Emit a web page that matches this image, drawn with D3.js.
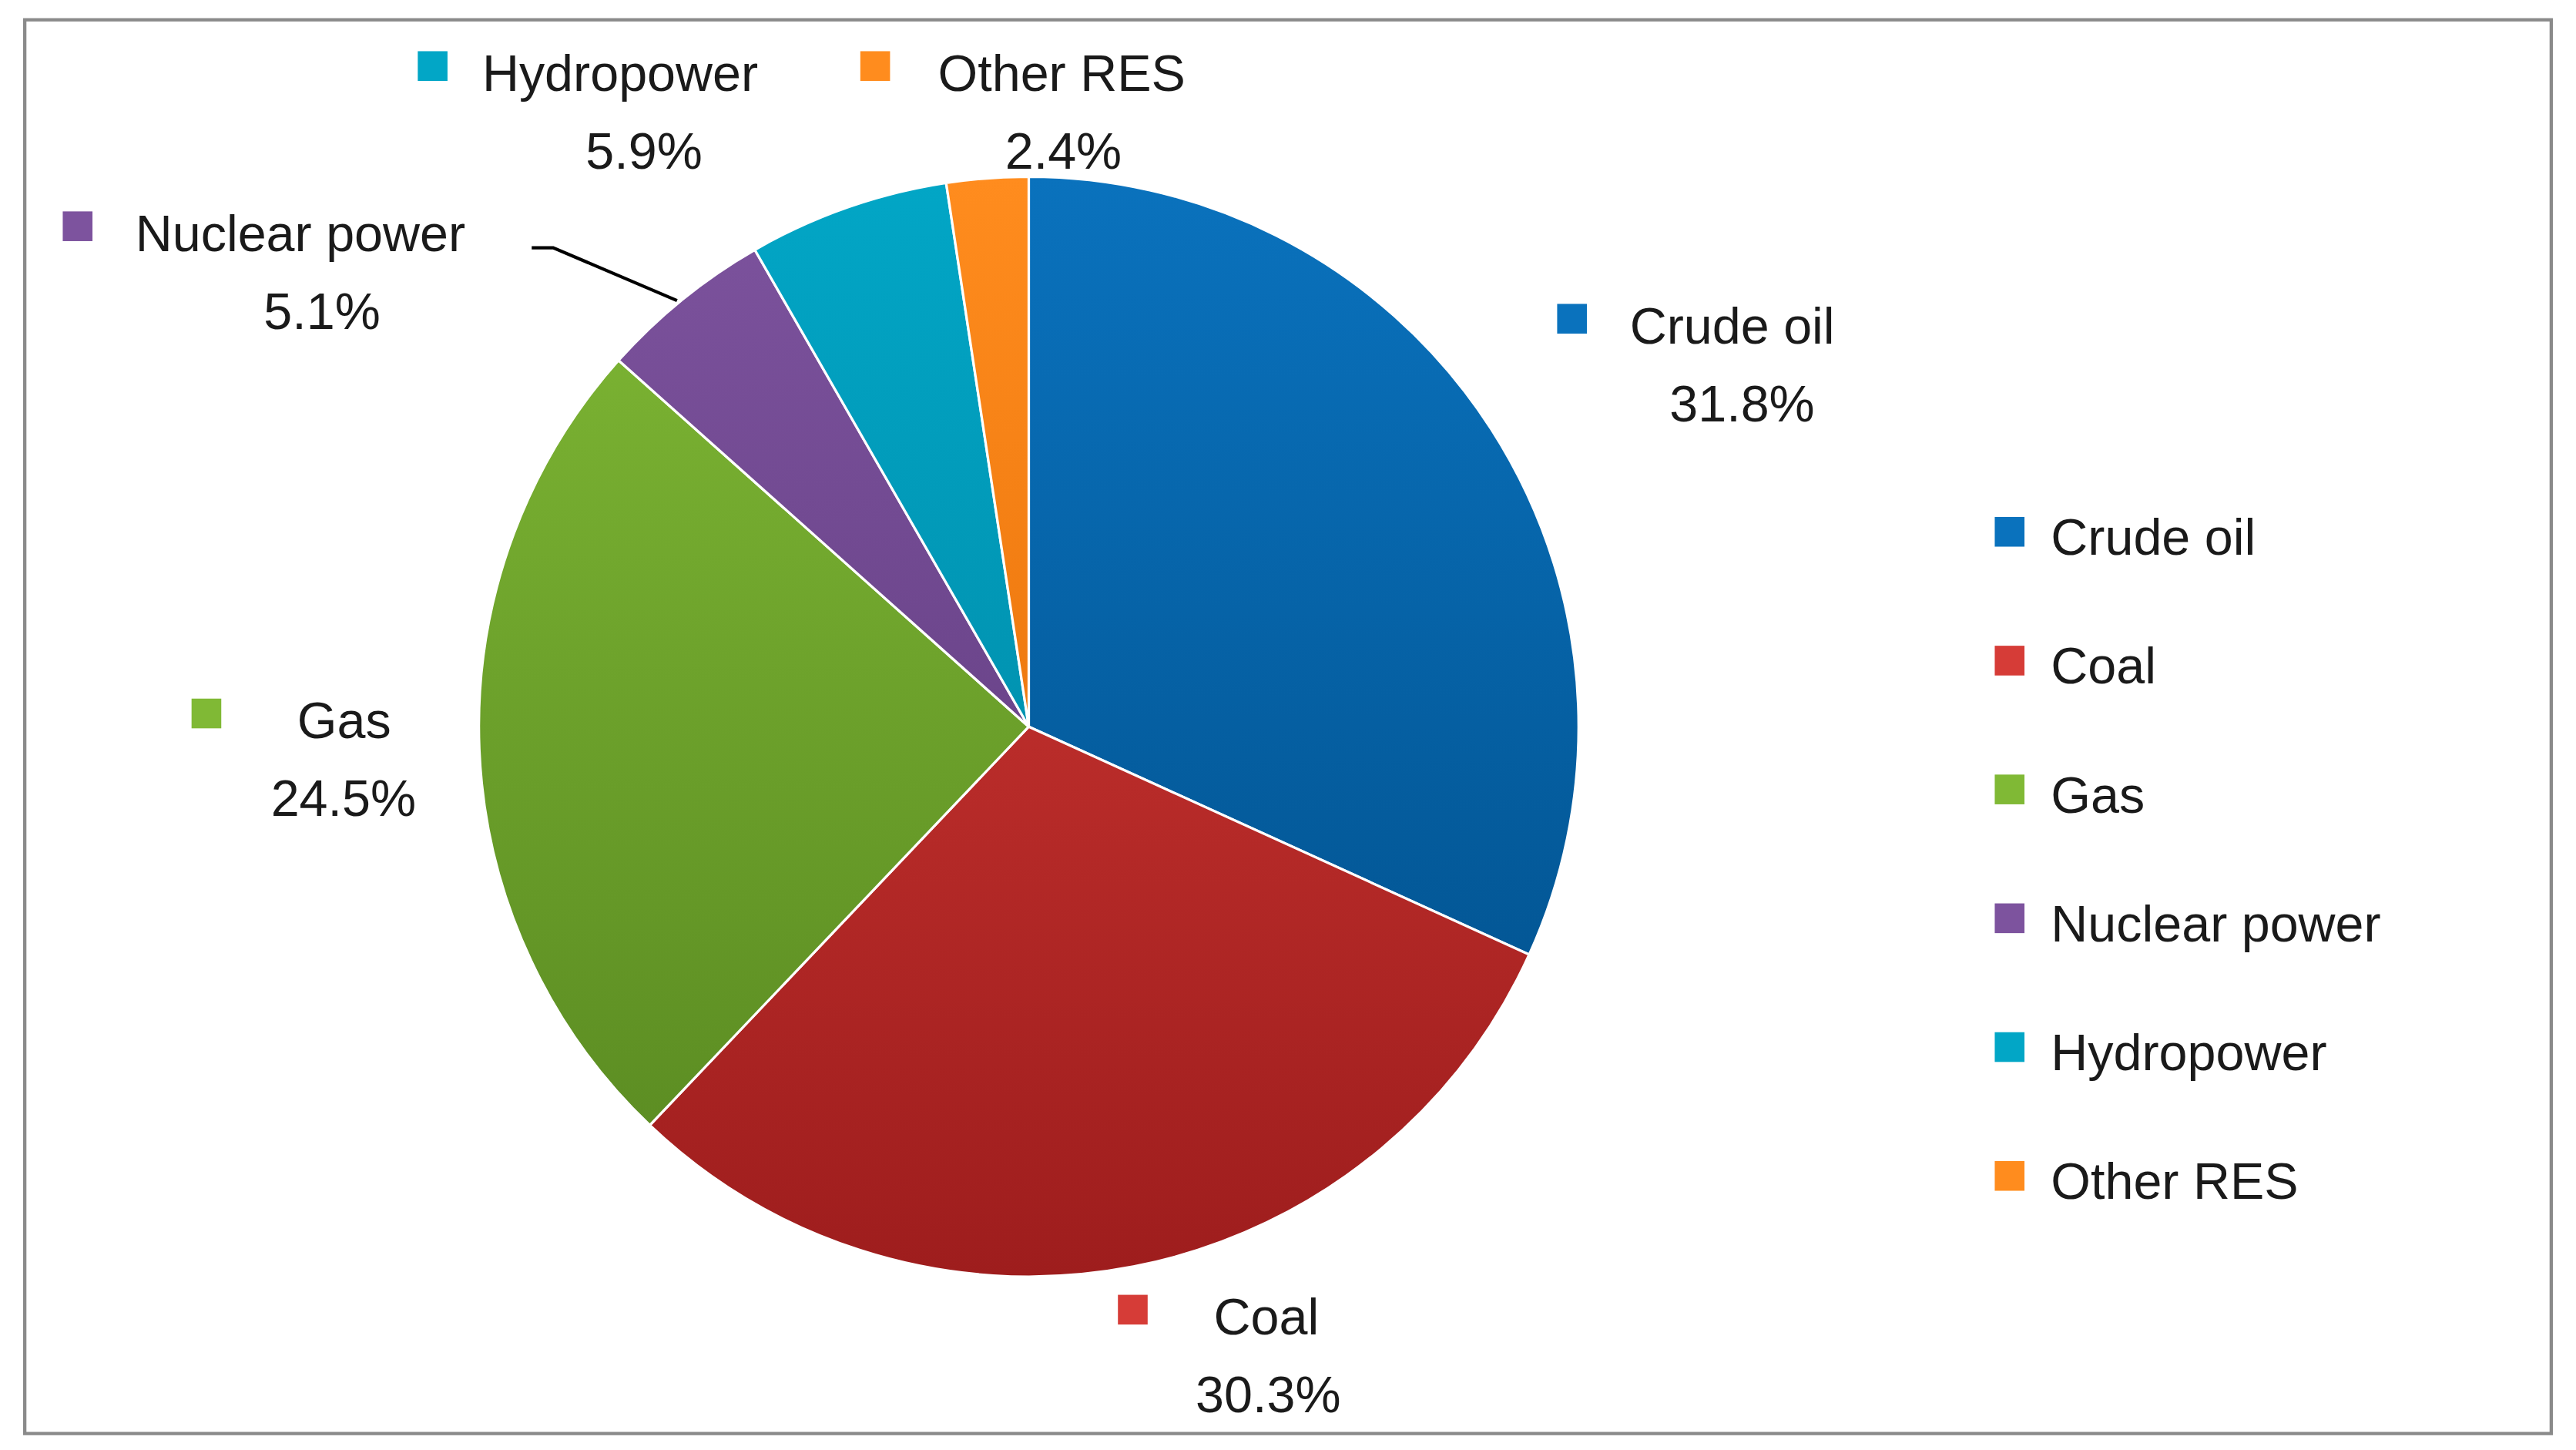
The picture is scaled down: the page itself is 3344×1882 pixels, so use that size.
<!DOCTYPE html>
<html>
<head>
  <title>Energy mix</title>
  <script src="https://d3js.org/d3.v7.min.js"></script>
  <style>body{margin:0;background:#fff}</style>
</head>
<body>
<script>
// data
var categories = ["Crude oil", "Coal", "Gas", "Nuclear power", "Hydropower", "Other RES"];
var shares = [31.8, 30.3, 24.5, 5.1, 5.9, 2.4];
var colorsTop = ["#0a72bd", "#d63c37", "#80b935", "#7d539e", "#02a6c6", "#ff8c1e"];
var colorsBottom = ["#004c86", "#9e1d1d", "#578720", "#5a3778", "#00809c", "#dd6600"];

var s = 3344 / 1560;
var W = 3344, H = 1882;
var fontSize = 31 * s;

var svg = d3.select("body").append("svg").attr("width", W).attr("height", H);

svg.append("rect").attr("x", 15*s).attr("y", 12*s).attr("width", 1530*s).attr("height", 856*s)
  .attr("fill", "#fff").attr("stroke", "#8a8a8a").attr("stroke-width", 2*s);

var defs = svg.append("defs");
categories.forEach(function(c, i){
  var g = defs.append("linearGradient").attr("id", "g"+i).attr("gradientUnits", "userSpaceOnUse")
    .attr("x1", 0).attr("y1", -333*s).attr("x2", 0).attr("y2", 333*s);
  g.append("stop").attr("offset", "0").attr("stop-color", colorsTop[i]);
  g.append("stop").attr("offset", "1").attr("stop-color", colorsBottom[i]);
});

var pie = d3.pie().sort(null).value(function(d){return d;});
var arc = d3.arc().innerRadius(0).outerRadius(333*s);

var pieG = svg.append("g").attr("transform", "translate(" + 623*s + "," + 440*s + ")");
pieG.selectAll("path").data(pie(shares)).enter().append("path")
  .attr("d", arc)
  .attr("fill", function(d, i){return "url(#g" + i + ")";})
  .attr("stroke", "#fff").attr("stroke-width", 1.5*s);

// data label layout: marker, name start, percent centre, baseline (display units)
var labelPos = [
  {mx: 952, tx: 987, px: 1055, y: 208},
  {mx: 686, tx: 735, px: 768, y: 808},
  {mx: 125, tx: 180, px: 208, y: 447},
  {mx: 47, tx: 82, px: 195, y: 152},
  {mx: 262, tx: 292, px: 390, y: 55},
  {mx: 530, tx: 568, px: 644, y: 55}
];
var ms = 18 * s;
var lab = svg.append("g").style("font-family", "'Liberation Sans', Arial, sans-serif").style("font-size", fontSize + "px").attr("fill", "#1a1a1a");
categories.forEach(function(c, i){
  var p = labelPos[i];
  lab.append("rect").attr("x", p.mx*s - ms/2).attr("y", (p.y - 24)*s).attr("width", ms).attr("height", ms)
    .attr("fill", "url(#lg" + i + ")").attr("fill", colorsTop[i]);
  lab.append("text").attr("x", p.tx*s).attr("y", p.y*s).text(c);
  lab.append("text").attr("x", p.px*s).attr("y", (p.y + 47)*s).attr("text-anchor", "middle")
    .text(d3.format(".1f")(shares[i]) + "%");
});

// leader line for nuclear power
svg.append("polyline").attr("points", [[322*s,150*s],[335*s,150*s],[410*s,182*s]].join(" "))
  .attr("fill", "none").attr("stroke", "#000").attr("stroke-width", 2*s);

// legend
var legY = d3.scalePoint().domain(categories).range([322*s, 712*s]);
var leg = svg.append("g").style("font-family", "'Liberation Sans', Arial, sans-serif").style("font-size", fontSize + "px").attr("fill", "#1a1a1a");
categories.forEach(function(c, i){
  leg.append("rect").attr("x", 1217*s - ms/2).attr("y", legY(c) - ms/2).attr("width", ms).attr("height", ms)
    .attr("fill", colorsTop[i]);
  leg.append("text").attr("x", 1242*s).attr("y", legY(c) + 14*s).text(c);
});
</script>
</body>
</html>
